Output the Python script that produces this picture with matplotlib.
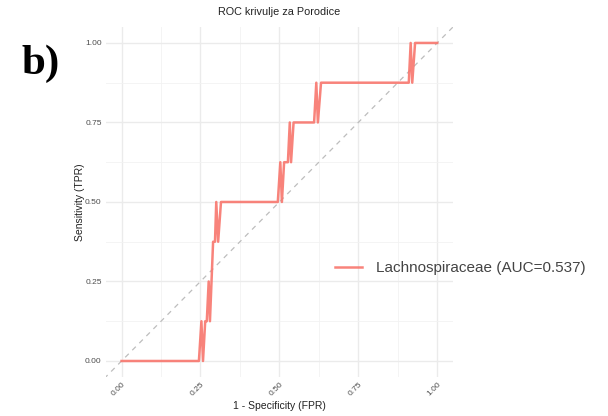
import matplotlib
matplotlib.use("Agg")
import matplotlib.pyplot as plt
import numpy as np

plt.rcParams["font.family"] = ["Liberation Sans", "DejaVu Sans"]

# ROC curve points
fpr = [0, 0.245, 0.253, 0.258, 0.265, 0.27, 0.276, 0.28, 0.285, 0.29, 0.296, 0.30, 0.306, 0.315,
       0.495, 0.503, 0.508, 0.515, 0.527, 0.533, 0.537, 0.545, 0.61, 0.617, 0.622, 0.632,
       0.91, 0.916, 0.921, 0.93, 1.0]
tpr = [0, 0, 0.125, 0, 0.125, 0.125, 0.25, 0.125, 0.25, 0.375, 0.375, 0.5, 0.375, 0.5,
       0.5, 0.625, 0.5, 0.625, 0.625, 0.75, 0.625, 0.75, 0.75, 0.875, 0.75, 0.875,
       0.875, 1.0, 0.875, 1.0, 1.0]
family_name = "Lachnospiraceae"
auc = 0.537
ticks = [0, 0.25, 0.5, 0.75, 1.0]
tick_labels = ["0.00", "0.25", "0.50", "0.75", "1.00"]

fig = plt.figure(figsize=(6.08, 4.16), dpi=100)
ax = fig.add_axes([0.174, 0.094, 0.571, 0.841])

ax.plot([-0.1, 1.1], [-0.1, 1.1], ls=(0, (4, 4)), color="#BDBDBD", lw=0.9, zorder=2)
line, = ax.plot(fpr, tpr, color="#F8766D", lw=1.8, alpha=0.9, zorder=3,
                label=f"{family_name} (AUC={auc})")

ax.set_xlim(-0.05, 1.05)
ax.set_ylim(-0.05, 1.05)
ax.set_xticks(ticks)
ax.set_xticklabels(tick_labels, rotation=45, ha="right", va="top", rotation_mode="anchor")
ax.set_yticks(ticks)
ax.set_yticklabels(tick_labels)
ax.set_xticks([0.125, 0.375, 0.625, 0.875], minor=True)
ax.set_yticks([0.125, 0.375, 0.625, 0.875], minor=True)
ax.tick_params(which="both", length=0, labelsize=6, labelcolor="#4D4D4D", pad=3)
ax.grid(which="major", color="#EBEBEB", lw=1.0)
ax.grid(which="minor", color="#F2F2F2", lw=0.6)
ax.set_axisbelow(True)
for s in ax.spines.values():
    s.set_visible(False)

ax.set_xlabel("1 - Specificity (FPR)", fontsize=7.5, color="#222222", labelpad=2)
ax.set_ylabel("Sensitivity (TPR)", fontsize=7.5, color="#222222", labelpad=0)
ax.set_title("ROC krivulje za Porodice", fontsize=7.8, color="#222222", pad=9)

leg = fig.legend(handles=[line], loc="center left", bbox_to_anchor=(0.528, 0.355),
                 frameon=False, fontsize=11, handlelength=1.8, handletextpad=0.9)
for t in leg.get_texts():
    t.set_color("#444444")

fig.text(0.036, 0.822, "b)", fontsize=31, fontweight="bold", family="Liberation Serif",
         color="black", va="baseline")

fig.savefig("out.png", dpi=100)
